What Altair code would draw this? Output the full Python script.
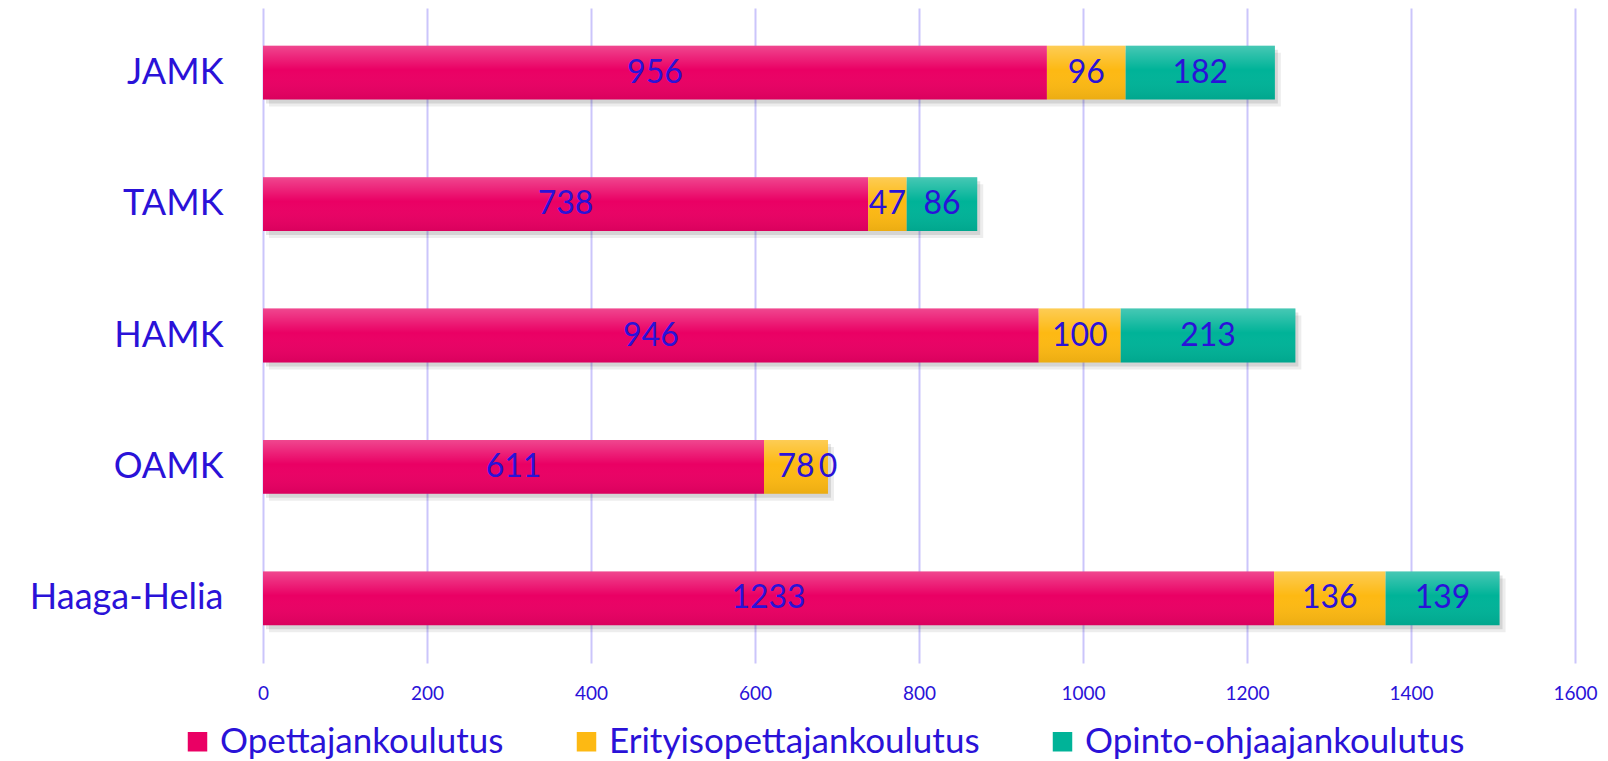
import altair as alt
import pandas as pd

categories = ["JAMK", "TAMK", "HAMK", "OAMK", "Haaga-Helia"]
series = ["Opettajankoulutus", "Erityisopettajankoulutus", "Opinto-ohjaajankoulutus"]
opettaja = [956, 738, 946, 611, 1233]
erityis = [96, 47, 100, 78, 136]
opinto = [182, 86, 213, 0, 139]
colors = ["#EA0064", "#FDB913", "#00B398"]
x_ticks = [0, 200, 400, 600, 800, 1000, 1200, 1400, 1600]

TXT = "#2A12D8"
GRID = "#CBC5FB"
FONT = "Lato"

rows = []
for i, c in enumerate(categories):
    for j, (s, vals) in enumerate(zip(series, [opettaja, erityis, opinto])):
        rows.append({"cat": c, "series": s, "order": j, "value": vals[i]})
df = pd.DataFrame(rows)

yenc = alt.Y(
    "cat:N",
    sort=categories,
    scale=alt.Scale(paddingInner=0.59, paddingOuter=0.287),
    axis=alt.Axis(
        title=None, ticks=False, domain=False, grid=False, labelLimit=0,
        labelFontSize=36, labelColor=TXT, labelFont=FONT, labelPadding=40,
    ),
)

xscale = alt.Scale(domain=[0, 1600], nice=False)
xaxis = alt.Axis(
    title=None, values=x_ticks, format="d", domain=False, ticks=False,
    grid=True, gridColor=GRID, gridWidth=2, labelFlush=False,
    labelFontSize=19, labelColor=TXT, labelFont=FONT, labelPadding=21,
)

stacked = alt.Chart(df).transform_stack(
    stack="value", groupby=["cat"], sort=[alt.SortField("order")], as_=["x0", "x1"]
).transform_calculate(mid="(datum.x0 + datum.x1) / 2")

totals = alt.Chart(df).transform_aggregate(total="sum(value)", groupby=["cat"])

shadow1 = totals.mark_bar(color="black", opacity=0.10, xOffset=3, yOffset=4).encode(
    x=alt.X("total:Q", scale=xscale, axis=xaxis), y=yenc
)
shadow2 = totals.mark_bar(color="black", opacity=0.07, xOffset=6, yOffset=7).encode(
    x=alt.X("total:Q", scale=xscale, axis=xaxis), y=yenc
)

bars = stacked.mark_bar().encode(
    x=alt.X("x0:Q", scale=xscale, axis=xaxis),
    x2="x1:Q",
    y=yenc,
    color=alt.Color(
        "series:N",
        scale=alt.Scale(domain=series, range=colors),
        legend=alt.Legend(
            title=None, orient="none", direction="horizontal",
            legendX=-83, legendY=716,
            symbolType="square", symbolSize=380, symbolStrokeWidth=0,
            labelFontSize=35, labelColor=TXT, labelFont=FONT, labelLimit=0,
            columnPadding=65, labelOffset=5,
        ),
    ),
    order=alt.Order("order:Q"),
)

gloss = totals.mark_bar(
    fill=alt.Gradient(
        gradient="linear",
        stops=[
            alt.GradientStop(color="rgba(255,255,255,0.28)", offset=0),
            alt.GradientStop(color="rgba(255,255,255,0)", offset=0.45),
            alt.GradientStop(color="rgba(0,0,0,0.07)", offset=1),
        ],
        x1=0, x2=0, y1=0, y2=1,
    )
).encode(x=alt.X("total:Q", scale=xscale, axis=xaxis), y=yenc)

labels = stacked.mark_text(fontSize=32, color=TXT, font=FONT).encode(
    x=alt.X("mid:Q", scale=xscale, axis=xaxis),
    y=yenc,
    text="value:Q",
)

chart = alt.layer(shadow2, shadow1, bars, gloss, labels).properties(
    width=1312,
    height=655,
    autosize=alt.AutoSizeParams(type="none"),
    padding={"left": 255, "top": 0, "right": 25, "bottom": 98},
).configure_view(stroke=None)

chart.save("out.html", embed_options={"renderer": "svg", "actions": False})
